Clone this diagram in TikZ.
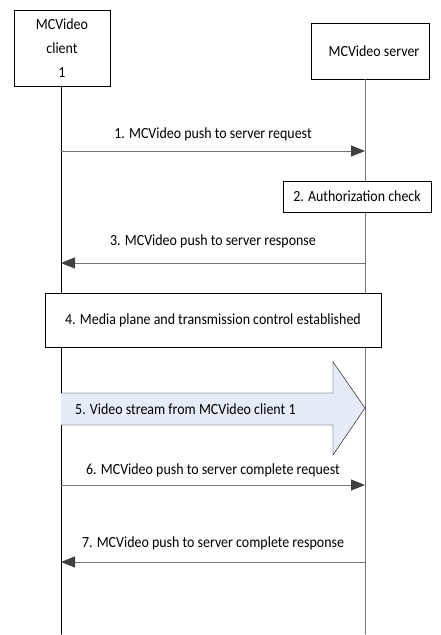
\documentclass[tikz,border=0pt]{standalone}
\usepackage{fontspec}
\setmainfont[FakeStretch=0.9]{Carlito}
\usetikzlibrary{arrows.meta,positioning}
\definecolor{streamblue}{RGB}{230,236,247}
\definecolor{msggray}{RGB}{115,115,115}
\definecolor{headgray}{RGB}{64,64,64}

\begin{document}
\begin{tikzpicture}[x=1pt,y=-1pt,line cap=round,
    entity/.style={draw,fill=white,align=center,inner sep=0pt,font=\fontsize{15.5}{24}\selectfont},
    stepbox/.style={draw,fill=white,inner sep=0pt,font=\fontsize{15.5}{17}\selectfont},
    msg/.style={draw=msggray,line width=1pt,-{Triangle[length=14pt,width=11pt,fill=headgray,color=headgray]}},
    msglabel/.style={font=\fontsize{15.5}{17}\selectfont,inner sep=0pt}]
  \useasboundingbox (0,0) rectangle (441,635);
  % entities
  \node[entity,minimum width=96pt,minimum height=76pt] (client) at (62,48) {MCVideo\\client\\1};
  \node[entity,minimum width=118pt,minimum height=56pt] (server) at (370,51) {\hspace*{8pt}MCVideo server};
  \coordinate (cli) at (61,86);
  \coordinate (srv) at (365,79);
  \coordinate (cliEnd) at (61,634);
  \coordinate (srvEnd) at (365,634);
  % lifelines
  \draw[line width=1pt] (cli) -- (cliEnd);
  \draw[line width=1pt,msggray] (srv) -- (srvEnd);
  % messages
  \foreach \y/\from/\to/\lift/\txt in {151/cli/srv/17/1. MCVideo push to server request,
                                      263/srv/cli/22/3. MCVideo push to server response,
                                      485/cli/srv/15/6. MCVideo push to server complete request,
                                      562/srv/cli/19/7. MCVideo push to server complete response}
  {
    \coordinate (a) at (\from |- 0,\y);
    \coordinate (b) at (\to |- 0,\y);
    \draw[msg] (a) -- (b);
    \node[msglabel] at (213,\y-\lift) {\txt};
  }
  % local steps
  \node[stepbox,minimum width=148pt,minimum height=31pt] (auth) at (357,196.5) {2. Authorization check};
  \node[stepbox,minimum width=336pt,minimum height=54pt] (media) at (213,320) {4. Media plane and transmission control established};
  % video stream
  \draw[fill=streamblue] (cli |- 0,393) -- (333,393) -- (333,362) -- (srv |- 0,408)
    -- (333,455) -- (333,425) -- (cli |- 0,425);
  \node[msglabel,anchor=west] (stream) at (75,409) {5. Video stream from MCVideo client 1};
\end{tikzpicture}
\end{document}
